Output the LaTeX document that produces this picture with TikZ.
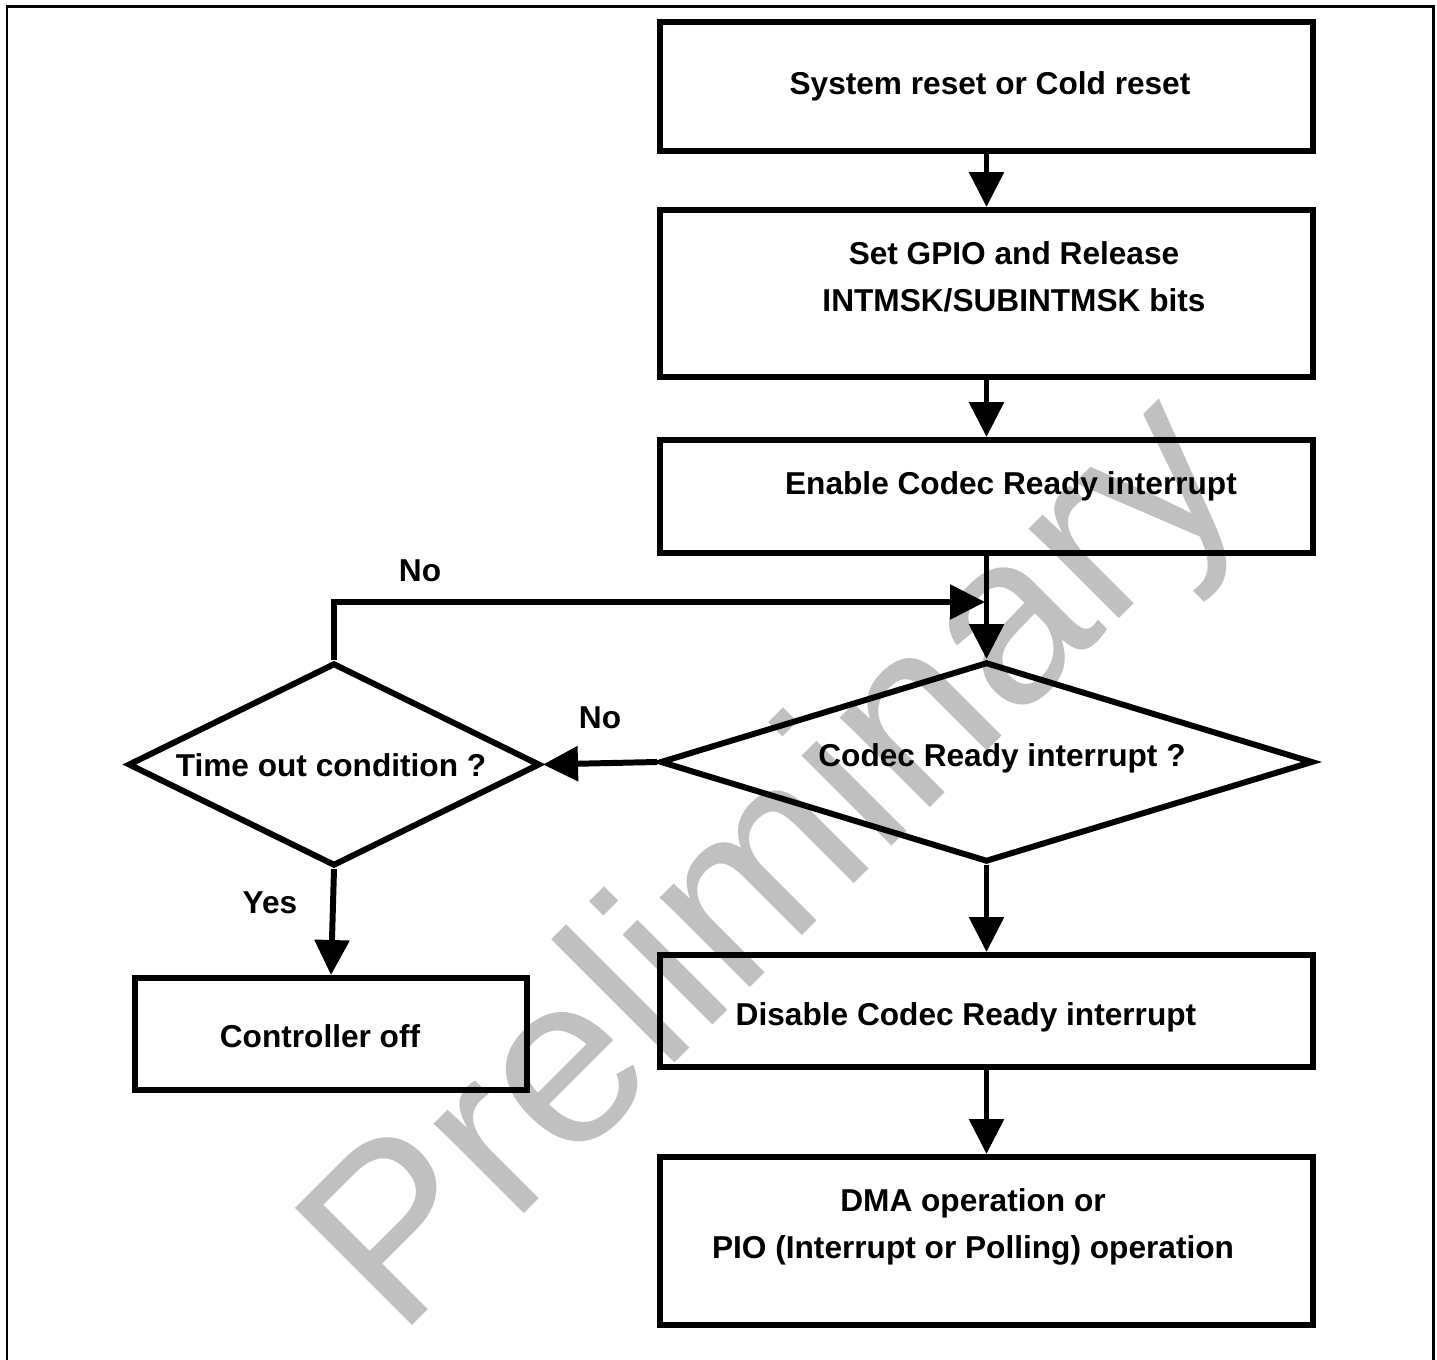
\documentclass[tikz,border=0pt]{standalone}
\usepackage{fontspec}
\setmainfont{Liberation Sans}
\usetikzlibrary{arrows.meta, shapes.geometric}
\definecolor{wmgray}{RGB}{192,192,192}

\begin{document}
\begin{tikzpicture}[>={Triangle[length=3.5mm,width=3.4mm]},
  font=\fontsize{9pt}{13.4pt}\selectfont\bfseries,
  procbox/.style={draw, line width=1.7pt, inner sep=0pt},
  decision/.style={draw, diamond, line width=1.7pt, inner sep=0pt},
  flow/.style={->, line width=1.7pt},
  lbl/.style={align=center}]
  \useasboundingbox (0,0) rectangle (14.37,-13.60);

  % Watermark behind everything
  \node[wmgray, rotate=45, anchor=base west, inner sep=0pt,
        font=\fontsize{68.5pt}{68.5pt}\selectfont] (wm) at (3.98,-13.40) {Preliminary};

  % Page frame (bottom edge runs off the page)
  \draw[line width=0.85pt] (0.07,-13.7) -- (0.07,-0.07) -- (14.33,-0.07) -- (14.33,-13.7);

  % Process boxes
  \node[procbox, minimum width=6.53cm, minimum height=1.29cm] (reset) at (9.865,-0.865) {};
  \node[procbox, minimum width=6.53cm, minimum height=1.67cm] (gpio) at (9.865,-2.935) {};
  \node[procbox, minimum width=6.53cm, minimum height=1.13cm] (enable) at (9.865,-4.965) {};
  \node[procbox, minimum width=6.53cm, minimum height=1.12cm] (disable) at (9.865,-10.11) {};
  \node[procbox, minimum width=6.53cm, minimum height=1.68cm] (dma) at (9.865,-12.41) {};
  \node[procbox, minimum width=3.92cm, minimum height=1.12cm] (ctrloff) at (3.31,-10.34) {};

  % Decisions
  \node[decision, minimum width=6.53cm, minimum height=2.0cm] (crdec) at (9.865,-7.62) {};
  \node[decision, minimum width=4.12cm, minimum height=2.03cm] (timeout) at (3.34,-7.645) {};

  % Texts
  \node[lbl] (resettxt) at (9.90,-0.86) {System reset or Cold reset};
  \node[lbl] (gpiotxt) at (10.14,-2.765) {Set GPIO and Release\\INTMSK/SUBINTMSK bits};
  \node[lbl] (enabletxt) at (10.11,-4.86) {Enable Codec Ready interrupt};
  \node[lbl] (crdectxt) at (10.02,-7.58) {Codec Ready interrupt ?};
  \node[lbl] (timeouttxt) at (3.31,-7.65) {Time out condition ?};
  \node[lbl] (ctrlofftxt) at (3.20,-10.36) {Controller off};
  \node[lbl] (disabletxt) at (9.66,-10.17) {Disable Codec Ready interrupt};
  \node[lbl] (dmatxt) at (9.73,-12.265) {DMA operation or\\PIO (Interrupt or Polling) operation};

  % Connectors
  \coordinate (loopend) at (9.85,-6.02);
  \draw[flow] (reset) -- (gpio);
  \draw[flow] (gpio) -- (enable);
  \draw[flow] (enable.south) -- (crdec.north);
  \draw[flow] (crdec.west) -- (timeout.east);
  \draw[flow] (timeout.north) |- (loopend);
  \draw[flow] (timeout.south) -- (ctrloff.north);
  \draw[flow] (crdec.south) -- (disable.north);
  \draw[flow] (disable) -- (dma);

  % Branch labels
  \node (no1) at (4.20,-5.71) {No};
  \node (no2) at (6.00,-7.18) {No};
  \node (yes) at (2.70,-9.03) {Yes};
\end{tikzpicture}
\end{document}
